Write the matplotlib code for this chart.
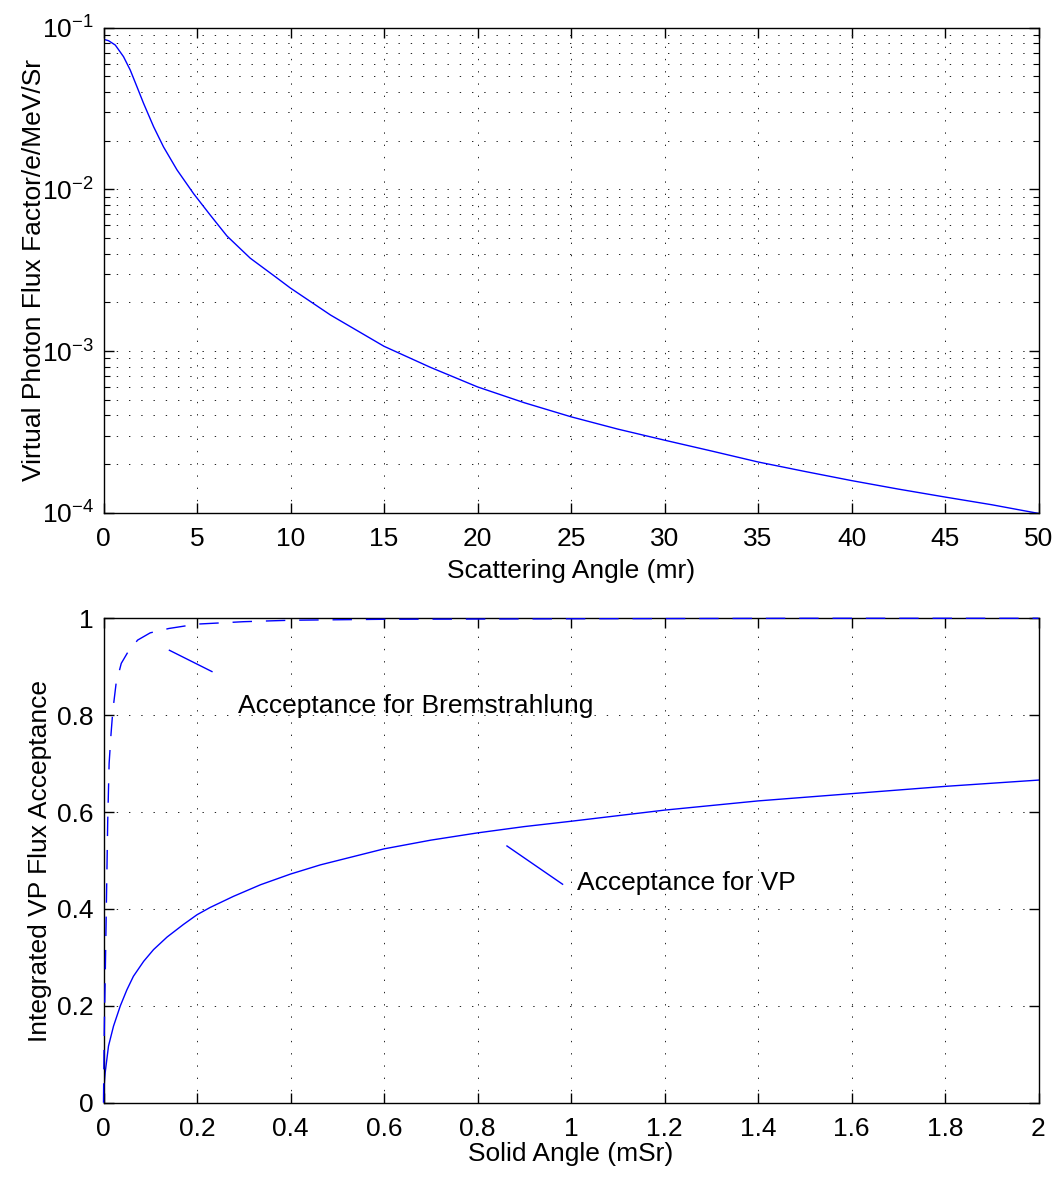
import matplotlib
matplotlib.use("Agg")
import matplotlib.pyplot as plt
from matplotlib.ticker import FixedLocator, LogLocator, NullFormatter

plt.rcParams['font.family'] = ['Liberation Sans', 'DejaVu Sans']
plt.rcParams['font.size'] = 19
plt.rcParams['mathtext.fontset'] = 'custom'
plt.rcParams['mathtext.rm'] = 'Liberation Sans'
plt.rcParams['mathtext.it'] = 'Liberation Sans:italic'
plt.rcParams['mathtext.bf'] = 'Liberation Sans:bold'

# ---- data: top panel (virtual photon flux vs scattering angle) ----
angle_mr = [0, 0.27, 0.63, 1.07, 1.43, 1.79, 2.14, 2.68, 3.21, 3.93, 4.82, 5.71, 6.6,
            7.85, 9.19, 10, 12.14, 15, 17.49, 20, 22.5, 25, 27.5, 30, 32.5, 35, 37.5,
            40, 42.5, 45, 47.5, 50]
vp_flux = [0.0848, 0.0831, 0.0781, 0.0662, 0.0547, 0.0431, 0.0341, 0.0244, 0.0183,
           0.0132, 0.0094, 0.00693, 0.00515, 0.00375, 0.00288, 0.00245, 0.00167,
           0.00107, 0.000792, 0.000600, 0.000479, 0.000392, 0.000329, 0.000281,
           0.000241, 0.000206, 0.000180, 0.000158, 0.000140, 0.000125, 0.000112,
           0.000099]
top_xticks = [0, 5, 10, 15, 20, 25, 30, 35, 40, 45, 50]

# ---- data: bottom panel (acceptance vs solid angle) ----
solid_vp = [0, 0.001, 0.0036, 0.0107, 0.0214, 0.036, 0.05, 0.064, 0.086, 0.107, 0.136,
            0.171, 0.2, 0.228, 0.278, 0.336, 0.4, 0.464, 0.6, 0.7, 0.8, 0.9, 1.0, 1.2,
            1.4, 1.6, 1.8, 2.0]
acc_vp = [0, 0.03, 0.062, 0.117, 0.158, 0.2, 0.233, 0.261, 0.292, 0.316, 0.342, 0.368,
          0.388, 0.403, 0.426, 0.45, 0.472, 0.491, 0.524, 0.542, 0.557, 0.57, 0.581,
          0.604, 0.623, 0.638, 0.653, 0.666]
solid_brem = [0, 0.001, 0.002, 0.004, 0.006, 0.009, 0.012, 0.016, 0.02, 0.027, 0.038,
              0.052, 0.073, 0.1, 0.14, 0.2, 0.3, 0.4, 0.6, 1.0, 1.5, 2.0]
acc_brem = [0, 0.1, 0.17, 0.28, 0.40, 0.58, 0.70, 0.76, 0.81, 0.866, 0.907, 0.93,
            0.955, 0.97, 0.979, 0.988, 0.993, 0.996, 0.998, 0.999, 1.0, 1.0]
bot_xticks = [0, 0.2, 0.4, 0.6, 0.8, 1, 1.2, 1.4, 1.6, 1.8, 2]
bot_xlabels = ['0', '0.2', '0.4', '0.6', '0.8', '1', '1.2', '1.4', '1.6', '1.8', '2']
bot_yticks = [0, 0.2, 0.4, 0.6, 0.8, 1]
bot_ylabels = ['0', '0.2', '0.4', '0.6', '0.8', '1']

BLUE = '#0000ff'
W, H = 1058, 1178
fig = plt.figure(figsize=(W / 100, H / 100), dpi=100)

def px_axes(left, top, right, bottom):
    return fig.add_axes([left / W, 1 - bottom / H, (right - left) / W, (bottom - top) / H])

grid_kw = dict(color='#222222', linestyle=(0, (1.4, 11.2)), linewidth=0.7)

def style(ax):
    for s in ax.spines.values():
        s.set_linewidth(1.0)
    ax.tick_params(which='major', direction='in', length=7, width=1.0,
                   top=True, right=True, pad=7)
    ax.tick_params(axis='x', which='major', pad=10)
    ax.tick_params(which='minor', direction='in', length=4, width=0.8,
                   top=True, right=True)

# ---- top panel ----
ax1 = px_axes(103.5, 27.7, 1038.5, 512.7)
ax1.semilogy(angle_mr, vp_flux, color=BLUE, linewidth=1.0)
ax1.set_xlim(0, 50)
ax1.set_ylim(1e-4, 1e-1)
ax1.xaxis.set_major_locator(FixedLocator(top_xticks))
ax1.set_xticklabels([str(t) for t in top_xticks])
ax1.yaxis.set_major_locator(LogLocator(base=10, numticks=10))
ax1.yaxis.set_minor_locator(LogLocator(base=10, subs=range(2, 10), numticks=20))
ax1.yaxis.set_minor_formatter(NullFormatter())
style(ax1)
ax1.grid(True, which='major', axis='x', **grid_kw)
ax1.grid(True, which='both', axis='y', **grid_kw)
ax1.set_xlabel('Scattering Angle (mr)', labelpad=6)
ax1.set_ylabel('Virtual Photon Flux Factor/e/MeV/Sr', labelpad=-3)

# ---- bottom panel ----
ax2 = px_axes(103.5, 618.3, 1038.5, 1102.7)
ax2.plot(solid_vp, acc_vp, color=BLUE, linewidth=1.0)
ax2.plot(solid_brem, acc_brem, color=BLUE, linewidth=1.0, linestyle=(0, (14, 10)),
         zorder=3, clip_on=False)
ax2.set_xlim(0, 2)
ax2.set_ylim(0, 1)
ax2.set_xticks(bot_xticks)
ax2.set_xticklabels(bot_xlabels)
ax2.set_yticks(bot_yticks)
ax2.set_yticklabels(bot_ylabels)
style(ax2)
ax2.grid(True, which='major', **grid_kw)
ax2.set_xlabel('Solid Angle (mSr)', labelpad=1)
ax2.set_ylabel('Integrated VP Flux Acceptance', labelpad=3.5)

# annotations
brem_line_x = [0.141, 0.232]
brem_line_y = [0.934, 0.890]
vp_line_x = [0.863, 0.982]
vp_line_y = [0.530, 0.451]
ax2.plot(brem_line_x, brem_line_y, color=BLUE, linewidth=1.0)
ax2.plot(vp_line_x, vp_line_y, color=BLUE, linewidth=1.0)
ax2.text(0.287, 0.818, 'Acceptance for Bremstrahlung', ha='left', va='center')
ax2.text(1.013, 0.454, 'Acceptance for VP', ha='left', va='center')

fig.savefig('out.png', dpi=100)
